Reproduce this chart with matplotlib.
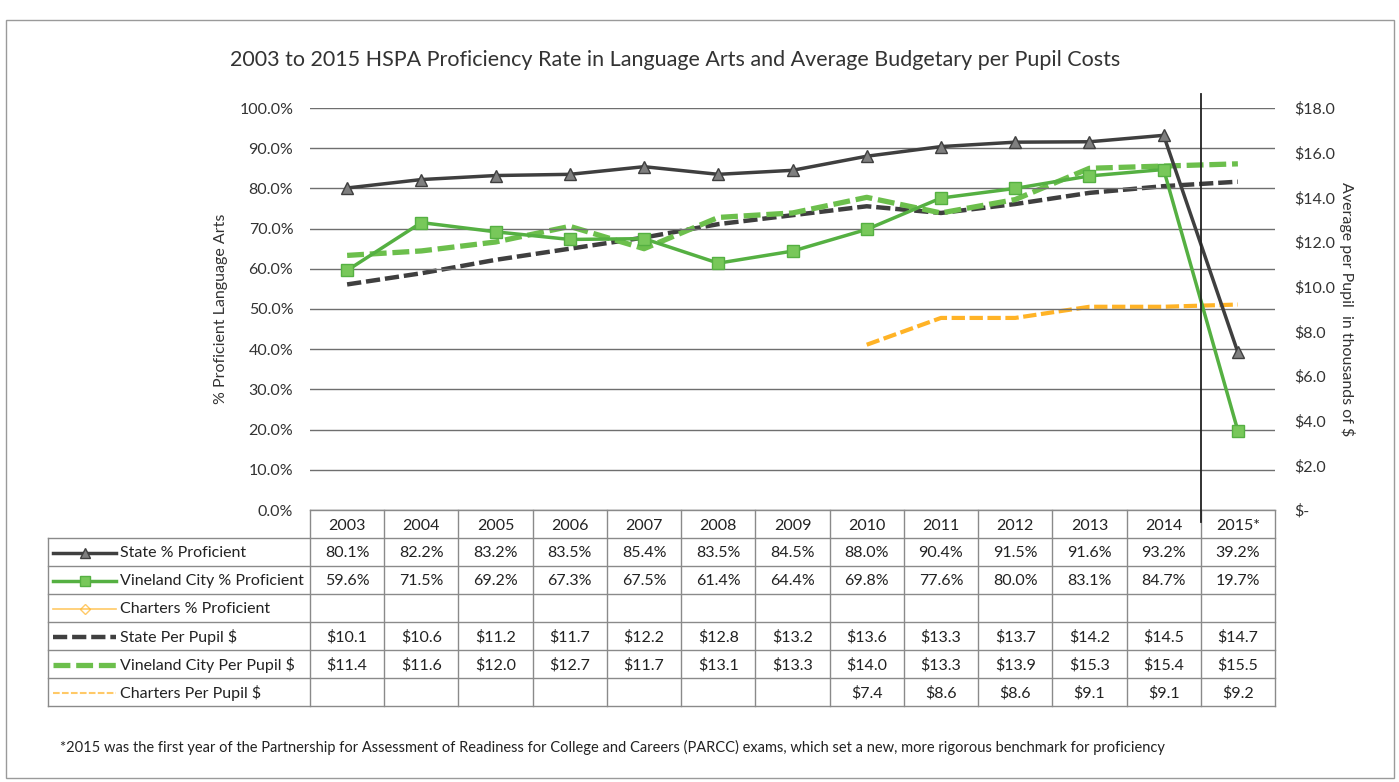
import matplotlib
matplotlib.use('Agg')
import matplotlib.pyplot as plt
from matplotlib.lines import Line2D
from matplotlib.patches import Rectangle

plt.rcParams['font.family'] = ['Lato', 'DejaVu Sans']

years = ['2003', '2004', '2005', '2006', '2007', '2008', '2009',
         '2010', '2011', '2012', '2013', '2014', '2015*']
state_pct = [80.1, 82.2, 83.2, 83.5, 85.4, 83.5, 84.5, 88.0, 90.4, 91.5, 91.6, 93.2, 39.2]
vineland_pct = [59.6, 71.5, 69.2, 67.3, 67.5, 61.4, 64.4, 69.8, 77.6, 80.0, 83.1, 84.7, 19.7]
charters_pct = [None] * 13
state_pp = [10.1, 10.6, 11.2, 11.7, 12.2, 12.8, 13.2, 13.6, 13.3, 13.7, 14.2, 14.5, 14.7]
vineland_pp = [11.4, 11.6, 12.0, 12.7, 11.7, 13.1, 13.3, 14.0, 13.3, 13.9, 15.3, 15.4, 15.5]
charters_pp = [None] * 7 + [7.4, 8.6, 8.6, 9.1, 9.1, 9.2]

W, H = 1399, 782
fig = plt.figure(figsize=(W / 100, H / 100), dpi=100)

# axes box in pixels: left, right, top, bottom
L, R, T, B = 310, 1275, 108, 510
ax = fig.add_axes([L / W, 1 - B / H, (R - L) / W, (B - T) / H])
ax2 = ax.twinx()
x = list(range(len(years)))

c_state = '#3f3f3f'
c_vine = '#55b042'
c_vine_pp = '#6cbf4c'
c_chart = '#ffb326'

# per-pupil cost lines on the secondary axis
def pts(vals):
    return [i for i, v in enumerate(vals) if v is not None], [v for v in vals if v is not None]

dash = (0, (3.2, 1.1))
ax2.plot(*pts(state_pp), color=c_state, lw=3.2, linestyle=dash, zorder=3)
ax2.plot(*pts(vineland_pp), color=c_vine_pp, lw=3.8, linestyle=dash, zorder=3)
ax2.plot(*pts(charters_pp), color=c_chart, lw=3.0, linestyle=dash, zorder=3)
ax2.set_ylim(0, 18)
ax2.set_yticks(range(0, 19, 2))
ax2.set_yticklabels(['$-'] + [f'${v:.1f}' for v in range(2, 19, 2)])
ax2.tick_params(axis='y', length=0, pad=14, labelsize=11.5, colors='#333333')
ax2.set_ylabel('Average per Pupil  in thousands of $', rotation=-90, labelpad=14,
               fontsize=11.5, color='#333333')

# proficiency lines on the primary axis
ax.plot(x, state_pct, color=c_state, lw=2.5, marker='^', markersize=8,
        markerfacecolor='#7f7f7f', markeredgecolor=c_state, zorder=4)
ax.plot(x, vineland_pct, color=c_vine, lw=2.5, marker='s', markersize=8,
        markerfacecolor='#78c85a', markeredgecolor=c_vine, zorder=4)
ax.set_ylim(0, 100)
ax.set_xlim(-0.5, len(years) - 0.5)
ax.set_yticks(range(0, 101, 10))
ax.set_yticklabels([f'{v:.1f}%' for v in range(0, 101, 10)])
ax.yaxis.grid(True, color='#6f6f6f', lw=1)
ax.set_axisbelow(True)
ax.set_xticks([])
ax.tick_params(axis='y', length=0, pad=12, labelsize=11.5, colors='#333333')
ax.set_ylabel('% Proficient Language Arts', fontsize=11.5, labelpad=8, color='#333333')
ax.axvline(11.5, color='#222222', lw=1.3, ymin=-0.03, ymax=1.035, clip_on=False, zorder=5)
ax.set_zorder(ax2.get_zorder() + 1)
ax.patch.set_visible(False)
for a in (ax, ax2):
    for s in a.spines.values():
        s.set_visible(False)

fig.text(675 / W, 1 - 60 / H,
         '2003 to 2015 HSPA Proficiency Rate in Language Arts and Average Budgetary per Pupil Costs',
         ha='center', va='center', fontsize=15.5, color='#333333')

# data table underneath the plot
tr = ax.get_xaxis_transform()
px = (B - T)  # pixels per axes unit in y
def yy(py):
    return (B - py) / px

row_edges = [510, 538, 566, 594, 622, 650, 678, 706]
label_x0 = -0.5 - (L - 48) / ((R - L) / len(years))
gc = '#8a8a8a'

rows = [
    ('State % Proficient', [f'{v:.1f}%' if v is not None else '' for v in state_pct]),
    ('Vineland City % Proficient', [f'{v:.1f}%' if v is not None else '' for v in vineland_pct]),
    ('Charters % Proficient', ['' if v is None else f'{v:.1f}%' for v in charters_pct]),
    ('State Per Pupil $', [f'${v:.1f}' if v is not None else '' for v in state_pp]),
    ('Vineland City Per Pupil $', [f'${v:.1f}' if v is not None else '' for v in vineland_pp]),
    ('Charters Per Pupil $', ['' if v is None else f'${v:.1f}' for v in charters_pp]),
]

# horizontal rules
ax.plot([-0.5, 12.5], [yy(row_edges[0])] * 2, transform=tr, color=gc, lw=1, clip_on=False)
for e in row_edges[1:]:
    ax.plot([label_x0, 12.5], [yy(e)] * 2, transform=tr, color=gc, lw=1, clip_on=False)
# vertical rules
for i in range(len(years) + 1):
    ax.plot([i - 0.5] * 2, [yy(row_edges[0]), yy(row_edges[-1])], transform=tr,
            color=gc, lw=1, clip_on=False)
ax.plot([label_x0] * 2, [yy(row_edges[1]), yy(row_edges[-1])], transform=tr,
        color=gc, lw=1, clip_on=False)

for i, yr in enumerate(years):
    ax.text(i, yy((row_edges[0] + row_edges[1]) / 2 + 2), yr, transform=tr,
            ha='center', va='center', fontsize=11.5, color='#222222')

keys = [
    dict(color=c_state, lw=2.5, marker='^', markersize=7, markerfacecolor='#7f7f7f'),
    dict(color=c_vine, lw=2.5, marker='s', markersize=7, markerfacecolor='#78c85a'),
    dict(color=c_chart, lw=1.2, marker='D', markersize=5, markerfacecolor='none', alpha=0.7),
    dict(color=c_state, lw=3.2, linestyle=dash),
    dict(color=c_vine_pp, lw=3.8, linestyle=dash),
    dict(color=c_chart, lw=1.5, linestyle=dash, alpha=0.7),
]
key_w = 0.85
for r, ((label, cells), kw) in enumerate(zip(rows, keys)):
    yc = yy((row_edges[r + 1] + row_edges[r + 2]) / 2 + 1)
    k0 = label_x0 + 0.07
    ax.add_line(Line2D([k0, k0 + key_w / 2, k0 + key_w], [yc, yc, yc], transform=tr,
                       clip_on=False, markevery=[1], **kw))
    ax.text(k0 + key_w + 0.05, yc, label, transform=tr, ha='left', va='center',
            fontsize=11.5, color='#222222')
    for i, s in enumerate(cells):
        ax.text(i, yc, s, transform=tr, ha='center', va='center',
                fontsize=11.5, color='#222222')

fig.text(612 / W, 1 - 747 / H,
         '*2015 was the first year of the Partnership for Assessment of Readiness for College '
         'and Careers (PARCC) exams, which set a new, more rigorous benchmark for proficiency',
         ha='center', va='center', fontsize=10.5, color='#222222')

fig.patches.append(Rectangle((6 / W, 1 - 778 / H), 1388 / W, 758 / H, transform=fig.transFigure,
                             fill=False, edgecolor='#9a9a9a', lw=1))

fig.savefig('out.png', dpi=100)
